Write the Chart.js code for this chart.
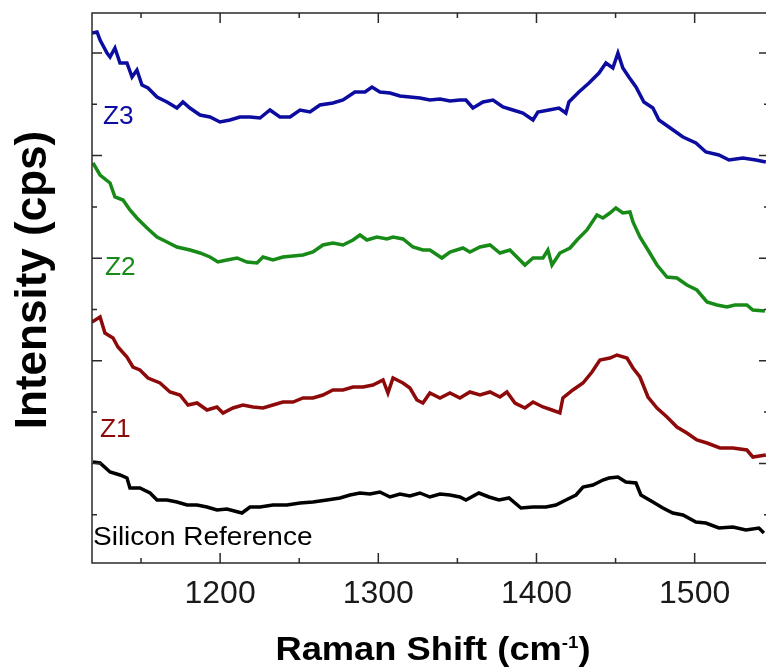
<!DOCTYPE html>
<html>
<head>
<meta charset="utf-8">
<script src="https://cdn.jsdelivr.net/npm/chart.js@4.4.1/dist/chart.umd.min.js"></script>
<style>
html,body{margin:0;padding:0;background:#fff;overflow:hidden;width:766px;height:670px}
#wrap{position:absolute;left:0;top:0;width:780px;height:670px}
</style>
</head>
<body>
<div id="wrap"><canvas id="c" width="780" height="670"></canvas></div>
<script>
// ---------------- data (Raman shift in cm-1, intensity in offset arbitrary units) ----------------
const seriesNames = ['Silicon Reference', 'Z1', 'Z2', 'Z3'];

const z3Shift = [1119,1122.2,1124.1,1128.5,1130.4,1133.5,1136.7,1141.1,1144.3,1147.4,1150.6,1154.4,1160.1,1166.4,1172.7,1176.5,1180.9,1187.3,1193.6,1199.9,1206.2,1212.5,1218.9,1225.2,1231.5,1237.8,1244.2,1250.5,1256.8,1263.1,1271.3,1277.7,1285.2,1288.4,1291.6,1296.0,1301.0,1307.4,1313.7,1320.0,1326.3,1332.6,1339.0,1345.3,1351.6,1355.4,1359.8,1366.2,1372.5,1378.8,1385.1,1391.4,1397.8,1400.9,1407.9,1414.2,1418.6,1420.5,1426.8,1433.2,1439.5,1443.9,1448.3,1451.5,1454.6,1458.4,1462.9,1467.9,1473.6,1477.4,1483.7,1492.6,1500.8,1507.1,1515.3,1521.7,1530.5,1538.7,1545.0];
const z3Intensity = [530,531,523,510,506,515,500,500,486,493,478,475,466,461,455,461,455,448,446,441,443,446,446,445,453,446,446,453,451,458,460,463,471,471,471,476,471,470,467,466,465,463,464,462,463,463,455,461,463,456,453,450,443,451,453,455,450,461,471,480,490,500,495,510,495,486,476,461,455,443,436,426,420,411,408,403,405,403,401];

const z2Shift = [1119.6,1124.1,1130.4,1133.5,1138.6,1143.0,1147.4,1153.8,1160.1,1166.4,1172.7,1181.0,1187.3,1193.6,1198.6,1204.3,1210.7,1217.0,1223.3,1227.1,1233.4,1239.7,1246.1,1252.4,1258.7,1265.0,1271.3,1277.7,1284.0,1288.4,1292.8,1299.1,1305.5,1309.3,1315.6,1321.9,1328.2,1332.6,1340.2,1345.3,1353.5,1357.9,1364.3,1370.6,1376.9,1383.2,1387.6,1392.7,1397.8,1404.1,1407.2,1409.8,1414.8,1421.2,1425.6,1431.9,1438.2,1442.0,1446.4,1450.2,1454.6,1459.1,1461.0,1465.4,1470.5,1476.2,1482.5,1488.8,1495.1,1501.4,1507.8,1514.1,1520.4,1525.4,1533.0,1536.8,1544.4];
const z2Intensity = [400,388,380,366,363,353,345,335,326,321,316,313,310,306,301,303,305,301,300,306,303,306,307,308,311,318,320,318,323,328,323,326,324,326,324,316,313,313,305,311,315,311,316,318,310,313,306,298,305,305,313,298,310,315,323,333,348,345,350,355,350,351,341,326,313,298,286,285,278,273,261,258,256,258,258,253,252];

const z1Shift = [1119,1124.1,1127.2,1132.3,1135.4,1141.1,1144.9,1149.3,1154.4,1162.0,1168.3,1174.6,1179.7,1185.4,1191.7,1198.0,1201.8,1208.1,1214.4,1220.8,1227.1,1233.4,1239.7,1246.1,1252.4,1258.7,1265.0,1271.3,1277.7,1284.0,1290.3,1296.6,1303.0,1306.1,1309.3,1315.6,1320.0,1324.4,1328.2,1332.6,1339.0,1345.3,1351.6,1357.9,1364.3,1370.6,1376.9,1381.3,1386.4,1392.7,1397.8,1404.1,1409.8,1414.8,1416.7,1423.0,1429.4,1435.1,1440.1,1446.4,1450.9,1457.2,1461.0,1465.4,1470.5,1476.2,1482.5,1488.8,1495.1,1501.4,1507.8,1516.0,1524.2,1533.0,1536.8,1545.0];
const z1Intensity = [241,246,230,225,216,206,196,193,185,180,171,168,158,160,153,156,150,155,158,156,155,158,161,161,165,165,168,173,173,176,176,178,183,170,185,180,175,163,160,170,165,170,165,171,168,171,166,171,160,155,161,156,153,150,165,173,180,191,203,205,208,205,195,186,166,155,146,136,130,123,120,115,115,113,106,108];

const siShift = [1119.6,1124.1,1130.4,1136.7,1141.1,1143.0,1149.3,1155.7,1160.1,1166.4,1172.7,1179.1,1185.4,1191.7,1198.0,1204.3,1213.8,1218.9,1225.2,1233.4,1242.3,1250.5,1258.7,1267.5,1275.8,1282.1,1288.4,1294.7,1301.0,1307.4,1313.7,1320.0,1326.3,1332.6,1339.0,1345.3,1351.6,1355.4,1363.6,1370.0,1376.3,1382.6,1390.2,1397.8,1406.0,1412.3,1418.6,1425.0,1429.4,1435.7,1442.0,1445.8,1451.5,1456.5,1462.9,1466.0,1473.6,1479.9,1486.2,1492.6,1500.8,1507.1,1515.3,1524.2,1532.4,1540.6,1543.8];
const siIntensity = [101,100,91,88,85,75,75,70,63,63,61,58,58,56,53,54,50,56,56,58,58,60,61,63,65,68,70,69,71,66,69,67,70,66,69,68,66,63,70,66,63,65,55,56,56,58,63,68,76,78,83,85,86,81,80,68,61,55,50,48,41,40,35,36,33,35,30];

const xMajorTicks = [1200, 1300, 1400, 1500];
const xMinorTicks = [1150, 1250, 1350, 1450];
const yMajorTicks = [99.6, 202.2, 304.8, 407.4, 510];
const yMinorTicks = [48.3, 150.9, 253.5, 356.1, 458.7];

const xTitle = 'Raman Shift (cm';
const xTitleSup = '-1';
const yTitle = 'Intensity (cps)';

// ---------------- chart ----------------
const colors = ['#000000', '#8e0a0a', '#188a18', '#0c0ca0'];
const shifts = [siShift, z1Shift, z2Shift, z3Shift];
const intens = [siIntensity, z1Intensity, z2Intensity, z3Intensity];

const datasets = seriesNames.map((name, i) => ({
  label: name,
  data: shifts[i].map((x, j) => ({x: x, y: intens[i][j]})),
  borderColor: colors[i],
  backgroundColor: colors[i],
  borderWidth: 3.5,
  pointRadius: 0,
  tension: 0,
  fill: false
}));

const FONT = '"Liberation Sans", Arial, Helvetica, sans-serif';

function txt(ctx, s, x, y, font, color, align, sx) {
  ctx.save();
  ctx.font = font;
  ctx.fillStyle = color;
  ctx.textBaseline = 'alphabetic';
  ctx.textAlign = align || 'left';
  ctx.translate(x, y);
  ctx.scale(sx || 1, 1);
  ctx.fillText(s, 0, 0);
  ctx.restore();
}

const decor = {
  id: 'decor',
  afterDraw(chart) {
    const ctx = chart.ctx;
    const a = chart.chartArea;
    const xs = chart.scales.x, ys = chart.scales.y;
    ctx.save();
    ctx.strokeStyle = '#2a2a2a';
    ctx.lineWidth = 1.5;
    ctx.strokeRect(a.left, a.top, a.right - a.left, a.bottom - a.top);
    ctx.beginPath();
    const tick = (vals, len) => {
      vals.forEach(v => {
        const px = xs.getPixelForValue(v);
        ctx.moveTo(px, a.bottom); ctx.lineTo(px, a.bottom - len);
        ctx.moveTo(px, a.top); ctx.lineTo(px, a.top + len);
      });
    };
    tick(xMajorTicks, 10); tick(xMinorTicks, 5);
    const ytick = (vals, len) => {
      vals.forEach(v => {
        const py = ys.getPixelForValue(v);
        ctx.moveTo(a.left, py); ctx.lineTo(a.left + len, py);
        ctx.moveTo(a.right, py); ctx.lineTo(a.right - len, py);
      });
    };
    ytick(yMajorTicks, 10); ytick(yMinorTicks, 5);
    ctx.stroke();
    ctx.restore();

    // series labels
    txt(ctx, seriesNames[3], a.left + 11, 124, '25px ' + FONT, colors[3], 'left', 1.05);
    txt(ctx, seriesNames[2], a.left + 13, 275, '25px ' + FONT, colors[2], 'left', 1.05);
    txt(ctx, seriesNames[1], a.left + 8, 437, '25px ' + FONT, colors[1], 'left', 1.05);
    txt(ctx, seriesNames[0], a.left + 1, 545, '25px ' + FONT, colors[0], 'left', 1.12);

    // x title with superscript
    ctx.save();
    const mainFont = 'bold 33px ' + FONT, supFont = 'bold 17px ' + FONT;
    const sx = 1.1;
    ctx.font = mainFont;
    const w1 = ctx.measureText(xTitle).width, w3 = ctx.measureText(')').width;
    ctx.font = supFont;
    const w2 = ctx.measureText(xTitleSup).width;
    ctx.restore();
    const total = (w1 + w2 + w3) * sx;
    let x0 = 433 - total / 2;
    txt(ctx, xTitle, x0, 660, mainFont, '#000', 'left', sx);
    txt(ctx, xTitleSup, x0 + w1 * sx, 648, supFont, '#000', 'left', sx);
    txt(ctx, ')', x0 + (w1 + w2) * sx, 660, mainFont, '#000', 'left', sx);

    // y title rotated
    ctx.save();
    ctx.translate(46, 280);
    ctx.rotate(-Math.PI / 2);
    ctx.font = 'bold 44px ' + FONT;
    ctx.fillStyle = '#000';
    ctx.textAlign = 'center';
    ctx.textBaseline = 'alphabetic';
    ctx.fillText(yTitle, 0, 0);
    ctx.restore();
  }
};

new Chart(document.getElementById('c'), {
  type: 'line',
  data: {datasets},
  options: {
    responsive: false,
    animation: false,
    events: [],
    layout: {padding: {left: 0, right: 11, top: 13, bottom: 0}},
    plugins: {legend: {display: false}, tooltip: {enabled: false}, title: {display: false}},
    scales: {
      x: {
        type: 'linear',
        min: 1119, max: 1547,
        afterBuildTicks: (s) => { s.ticks = xMajorTicks.concat(xMinorTicks).sort((p, q) => p - q).map(v => ({value: v})); },
        afterFit: (s) => { s.height = 107; },
        grid: {display: false, drawTicks: false},
        border: {display: false},
        ticks: {
          autoSkip: false, maxRotation: 0, padding: 12,
          color: '#1a1a1a',
          font: {family: FONT, size: 32},
          callback: (v) => xMajorTicks.includes(v) ? String(v) : ''
        }
      },
      y: {
        type: 'linear',
        min: 0, max: 550,
        afterBuildTicks: (s) => { s.ticks = yMinorTicks.concat(yMajorTicks).sort((p, q) => p - q).map(v => ({value: v})); },
        afterFit: (s) => { s.width = 92; },
        grid: {display: false, drawTicks: false},
        border: {display: false},
        ticks: {display: false}
      }
    }
  },
  plugins: [decor]
});
</script>
</body>
</html>
